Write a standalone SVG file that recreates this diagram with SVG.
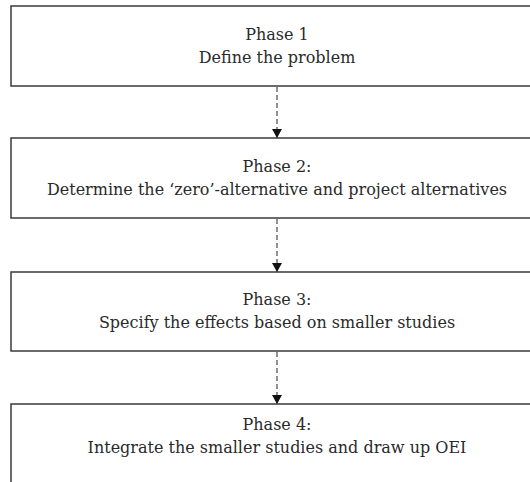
<svg xmlns="http://www.w3.org/2000/svg" width="530" height="482" viewBox="0 0 530 482">
  <style>
    .box { fill: #ffffff; stroke: #3a3a3a; stroke-width: 1.5; }
    .label { font-family: "DejaVu Serif", "Liberation Serif", serif; font-size: 16px; fill: #2a2a2a; text-anchor: middle; }
    .link { stroke: #555555; stroke-width: 1.3; stroke-dasharray: 5 3; fill: none; }
  </style>
  <defs>
    <marker id="arrow" markerWidth="9" markerHeight="10" refX="9" refY="5" orient="auto" markerUnits="userSpaceOnUse">
      <path d="M0,0 L9,5 L0,10 Z" fill="#111111"/>
    </marker>
  </defs>
  <rect width="530" height="482" fill="#ffffff"/>

  <g id="phase1">
    <rect class="box" x="11" y="6" width="540" height="80"/>
    <text class="label" x="277" y="40">Phase 1</text>
    <text class="label" x="277" y="63">Define the problem</text>
  </g>

  <g id="phase2">
    <rect class="box" x="11" y="138" width="540" height="80"/>
    <text class="label" x="277" y="172">Phase 2:</text>
    <text class="label" x="277" y="195">Determine the ‘zero’-alternative and project alternatives</text>
  </g>

  <g id="phase3">
    <rect class="box" x="11" y="272" width="540" height="79"/>
    <text class="label" x="277" y="305">Phase 3:</text>
    <text class="label" x="277" y="328">Specify the effects based on smaller studies</text>
  </g>

  <g id="phase4">
    <rect class="box" x="11" y="404" width="540" height="100"/>
    <text class="label" x="277" y="430">Phase 4:</text>
    <text class="label" x="277" y="453">Integrate the smaller studies and draw up OEI</text>
  </g>

  <g id="connectors">
    <line class="link" x1="277" y1="87" x2="277" y2="138" marker-end="url(#arrow)"/>
    <line class="link" x1="277" y1="219" x2="277" y2="272" marker-end="url(#arrow)"/>
    <line class="link" x1="277" y1="352" x2="277" y2="404" marker-end="url(#arrow)"/>
  </g>
</svg>
